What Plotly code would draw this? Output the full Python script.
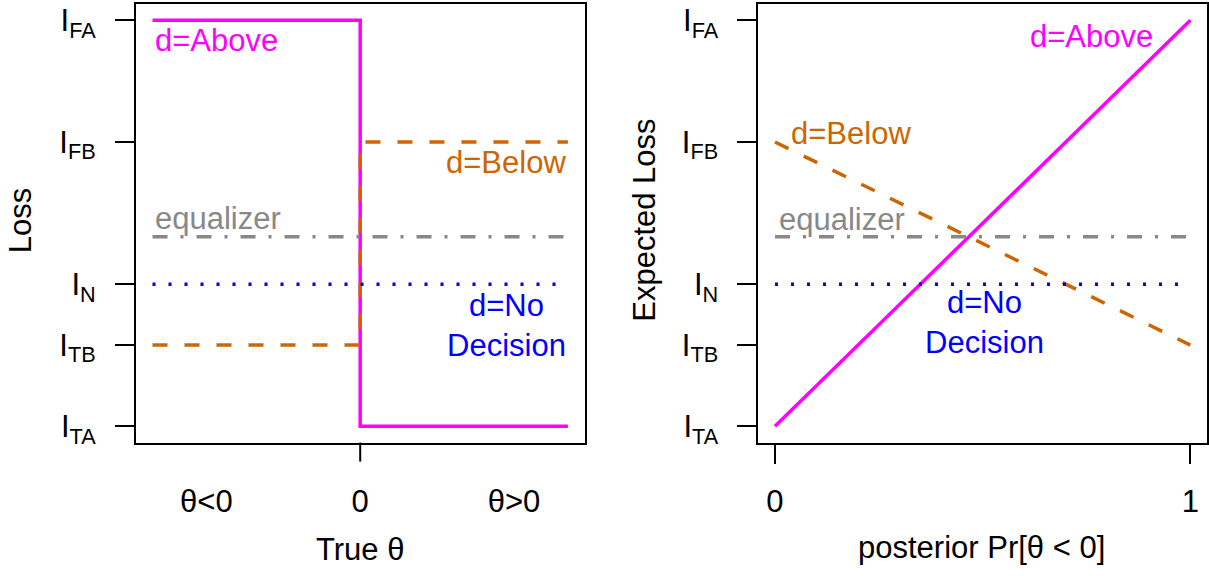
import plotly.graph_objects as go
from plotly.subplots import make_subplots

# ---- data ----
loss_TA = 0.0
loss_TB = 2.0
loss_N = 3.5
loss_FB = 7.0
loss_FA = 10.0
loss_eq = 4.67

ytick_vals = [loss_TA, loss_TB, loss_N, loss_FB, loss_FA]
ytick_text = ["I<sub>TA</sub>", "I<sub>TB</sub>", "I<sub>N</sub>", "I<sub>FB</sub>", "I<sub>FA</sub>"]

theta_x = [-1.35, 0.0, 0.0, 1.35]
theta_ends = [-1.35, 1.35]
above_left = [loss_FA, loss_FA, loss_TA, loss_TA]
below_left = [loss_TB, loss_TB, loss_FB, loss_FB]

left_xtick_vals = [-1, 0, 1]
left_xtick_text = ["θ<0", "0", "θ>0"]

post_x = [0.0, 1.0]
above_right = [loss_TA, loss_FA]
below_right = [loss_FB, loss_TB]
right_xtick_vals = [0, 1]
right_xtick_text = ["0", "1"]

# ---- style ----
MAG = "#FF00FF"
ORG = "#CD6600"
GRY = "#888888"
BLU = "#0000FF"
FONT = "Liberation Sans, Arial, sans-serif"
FS = 31

fig = make_subplots(rows=1, cols=2)

def add_lines(col, xs_step, above, below, xs_flat):
    fig.add_trace(go.Scatter(x=xs_step, y=above, mode="lines",
                             line=dict(color=MAG, width=3.5), showlegend=False, hoverinfo="skip"), row=1, col=col)
    fig.add_trace(go.Scatter(x=xs_step, y=below, mode="lines",
                             line=dict(color=ORG, width=3.5, dash="15px,17px"), showlegend=False, hoverinfo="skip"), row=1, col=col)
    fig.add_trace(go.Scatter(x=xs_flat, y=[loss_eq] * len(xs_flat), mode="lines",
                             line=dict(color=GRY, width=3.5, dash="15px,13px,3px,13px"), showlegend=False, hoverinfo="skip"), row=1, col=col)
    fig.add_trace(go.Scatter(x=xs_flat, y=[loss_N] * len(xs_flat), mode="lines",
                             line=dict(color=BLU, width=3.5, dash="3px,13px"), showlegend=False, hoverinfo="skip"), row=1, col=col)

add_lines(1, theta_x, above_left, below_left, theta_ends)
add_lines(2, post_x, above_right, below_right, post_x)

ydom = [1 - 447 / 576, 1 - 3 / 576]
axis_common = dict(showline=True, linecolor="black", linewidth=2, mirror=True,
                   showgrid=False, zeroline=False,
                   tickfont=dict(family=FONT, size=FS, color="black"))

fig.update_layout(
    width=1209, height=576,
    margin=dict(l=0, r=0, t=0, b=0),
    plot_bgcolor="white", paper_bgcolor="white",
    xaxis=dict(domain=[136 / 1209, 585 / 1209], range=[-1.458, 1.458],
               tickvals=left_xtick_vals, ticktext=left_xtick_text,
               ticks="outside", ticklen=19, tickwidth=2, tickcolor="rgba(0,0,0,0)",
               ticklabelstandoff=11, **axis_common),
    yaxis=dict(domain=ydom, range=[-0.4, 10.4],
               tickvals=ytick_vals, ticktext=ytick_text,
               ticks="outside", ticklen=19, tickwidth=2, tickcolor="black",
               ticklabelstandoff=13, **axis_common),
    xaxis2=dict(domain=[759 / 1209, 1208 / 1209], range=[-0.04, 1.04],
                tickvals=right_xtick_vals, ticktext=right_xtick_text,
                ticks="outside", ticklen=19, tickwidth=2, tickcolor="black",
                ticklabelstandoff=11, **axis_common),
    yaxis2=dict(domain=ydom, range=[-0.4, 10.4],
                tickvals=ytick_vals, ticktext=ytick_text,
                ticks="outside", ticklen=19, tickwidth=2, tickcolor="black",
                ticklabelstandoff=13, **axis_common),
)

# single visible tick mark at theta = 0 on the left panel
fig.add_shape(type="line", xref="x", yref="y domain", x0=0, x1=0,
              ysizemode="pixel", yanchor=0, y0=0, y1=-19,
              line=dict(color="black", width=2))

def txt(x, y, text, color, xref, yref, xanchor="left"):
    fig.add_annotation(x=x, y=y, xref=xref, yref=yref, text=text, showarrow=False,
                       xanchor=xanchor, yanchor="middle",
                       font=dict(family=FONT, size=FS, color=color))

# left panel labels
txt(-1.35, 9.5, "d=Above", MAG, "x", "y")
txt(1.35, 6.5, "d=Below", ORG, "x", "y", "right")
txt(-1.35, 5.12, "equalizer", GRY, "x", "y")
txt(1.35, 2.48, "d=No<br>Decision", BLU, "x", "y", "right")

# right panel labels
txt(0.915, 9.6, "d=Above", MAG, "x2", "y2", "right")
txt(0.033, 7.2, "d=Below", ORG, "x2", "y2")
txt(0.006, 5.1, "equalizer", GRY, "x2", "y2")
txt(0.505, 2.56, "d=No<br>Decision", BLU, "x2", "y2", "center")

# axis titles
def title(x, y, text, angle=0):
    fig.add_annotation(x=x, y=y, xref="paper", yref="paper", text=text, showarrow=False,
                       xanchor="center", yanchor="middle", textangle=angle,
                       font=dict(family=FONT, size=FS, color="black"))

title(20 / 1209, 1 - 222 / 576, "Loss", -90)
title(360 / 1209, 1 - 555 / 576, "True θ")
title(645 / 1209, 1 - 222 / 576, "Expected Loss", -90)
title(982 / 1209, 1 - 553 / 576, "posterior Pr[θ < 0]")

fig.write_html("out.html", config={"displayModeBar": False},
               post_script="document.body.style.margin='0';")
